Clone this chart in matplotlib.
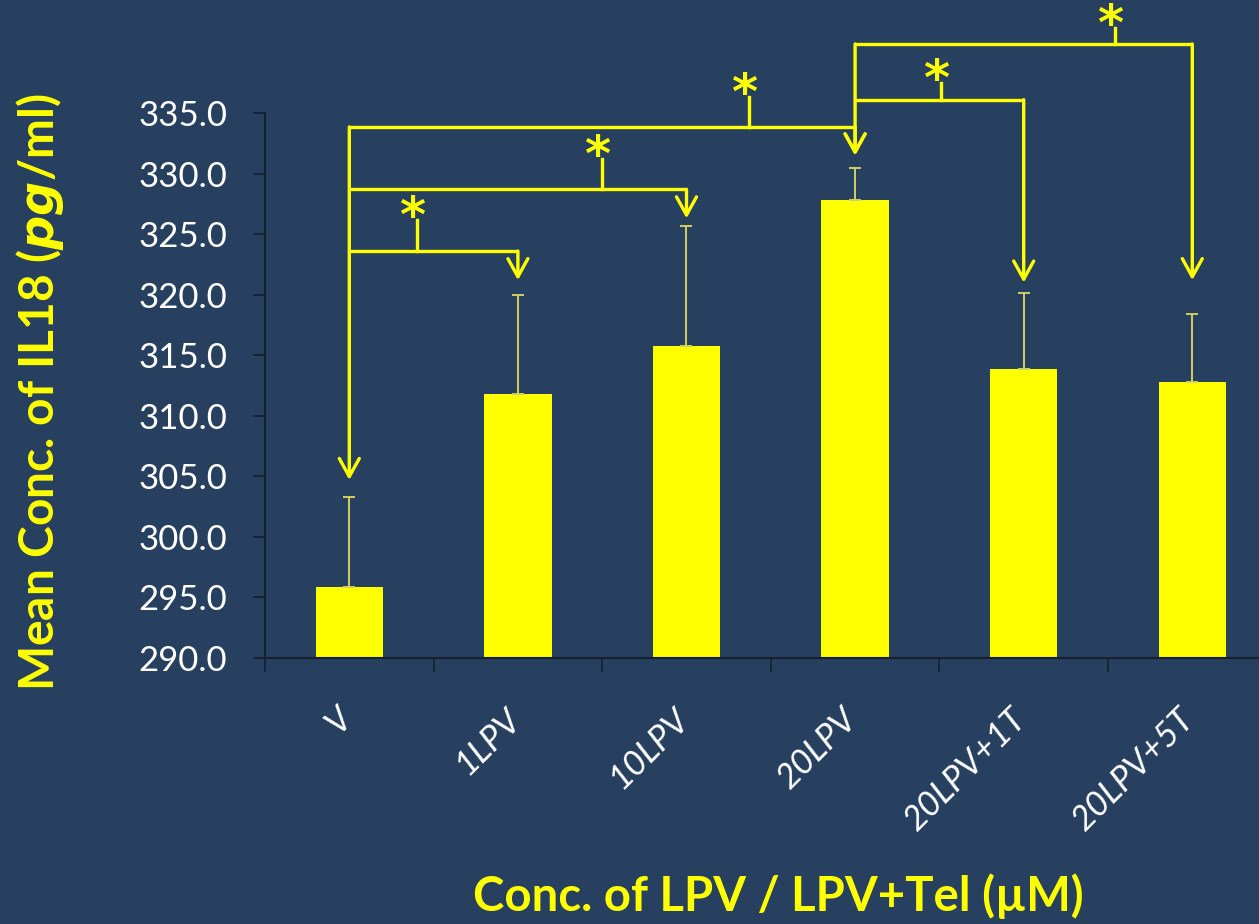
import matplotlib
matplotlib.use("Agg")
import matplotlib.pyplot as plt
import matplotlib.transforms as mtransforms
import numpy as np

# ---- data ----
categories = ["V", "1LPV", "10LPV", "20LPV", "20LPV+1T", "20LPV+5T"]
means = [295.9, 311.8, 315.8, 327.8, 313.9, 312.8]
errors = [7.4, 8.2, 9.9, 2.7, 6.2, 5.6]
y_ticks = [290, 295, 300, 305, 310, 315, 320, 325, 330, 335]

# significance comparisons (from index, to index)
comparisons = [(0, 1), (0, 2), (0, 3), (3, 4), (3, 5)]
bracket_levels = [323.6, 328.7, 333.85, 336.1, 340.7]
star_frac = [0.40, 0.75, 0.79, 0.51, 0.77]
star_tick = [2.6, 2.5, 2.5, 1.4, 1.3]
arrow_tips = [304.7, 321.2, 326.3, 331.5, 321.0, 321.2]

BG = "#27405f"
YEL = "#ffff00"

plt.rcParams['font.family'] = ['Lato', 'DejaVu Sans']

fig = plt.figure(figsize=(12.59, 9.24), dpi=100, facecolor=BG)
ax = fig.add_axes([265/1259, 1-658/924, 1011.6/1259, 545/924], facecolor=BG)

x = np.arange(len(categories))
ax.bar(x, means, width=0.40, color=YEL, bottom=0, zorder=2)
ax.errorbar(x, means, yerr=[np.zeros(len(x)), errors], fmt='none',
            ecolor="#d0d060", elinewidth=1.4, capsize=4, capthick=1.4, zorder=3)

ax.set_xlim(-0.5, len(categories) - 0.5)
ax.set_ylim(290, 335)
ax.set_yticks(y_ticks)
ax.set_yticklabels([f"{v:.1f}" for v in y_ticks], color="white", fontsize=25)
ax.set_xticks(x)
ax.set_xticklabels([])
ax.set_xticks(np.arange(-0.5, len(categories), 1.0), minor=True)
ax.tick_params(axis='x', which='major', length=0)
ax.tick_params(axis='x', which='minor', length=10, width=1.2, color="#152030", direction='out')
ax.tick_params(axis='y', length=9, width=1.2, color="#152030", direction='out', pad=18)
for s in ['top', 'right']:
    ax.spines[s].set_visible(False)
for s in ['left', 'bottom']:
    ax.spines[s].set_color("#152030")
    ax.spines[s].set_linewidth(1.5)

# rotated category labels
trans = mtransforms.blended_transform_factory(ax.transData, ax.transAxes) + \
    mtransforms.ScaledTranslation(-14/100, -44/100, fig.dpi_scale_trans)
for xi, lab in zip(x, categories):
    ax.text(xi, 0, lab, transform=trans, rotation=45, ha='right', va='top',
            rotation_mode='anchor', color="white", fontsize=25, style='italic',
            clip_on=False)

# labels
fig.text(40/1259, 1-392/924, "Mean Conc. of IL18 ($\\mathbfit{pg}$/ml)", rotation=90,
         color=YEL, fontsize=34.5, fontweight='bold', ha='center', va='center')
fig.text(778/1259, 1-896/924, "Conc. of LPV / LPV+Tel (µM)", color=YEL,
         fontsize=34, fontweight='bold', ha='center', va='center')

# brackets
lw = 2.4
astyle = '->,head_length=1.3,head_width=0.72'
for k, (i, j) in enumerate(comparisons):
    lvl = bracket_levels[k]
    ax.plot([i, j], [lvl, lvl], color=YEL, lw=lw, clip_on=False, solid_capstyle='butt', zorder=4)
    ax.annotate("", xy=(j, arrow_tips[j]), xytext=(j, lvl),
                arrowprops=dict(arrowstyle=astyle, color=YEL, lw=lw, shrinkA=0, shrinkB=0),
                annotation_clip=False, zorder=4)
    sx = i + star_frac[k] * (j - i)
    ax.plot([sx, sx], [lvl, lvl + star_tick[k]], color=YEL, lw=lw, clip_on=False, zorder=4)
    ax.text(sx - 0.03, lvl + star_tick[k] + 0.15, "*", color=YEL, fontsize=36,
            fontweight='bold', ha='center', va='center', clip_on=False,
            fontfamily='DejaVu Sans')

# source vertical lines with arrows
for i in sorted(set(c[0] for c in comparisons)):
    top = max(bracket_levels[k] for k, c in enumerate(comparisons) if c[0] == i)
    ax.annotate("", xy=(i, arrow_tips[i]), xytext=(i, top),
                arrowprops=dict(arrowstyle=astyle, color=YEL, lw=lw, shrinkA=0, shrinkB=0),
                annotation_clip=False, zorder=4)

fig.savefig("out.png", dpi=100, facecolor=BG)
